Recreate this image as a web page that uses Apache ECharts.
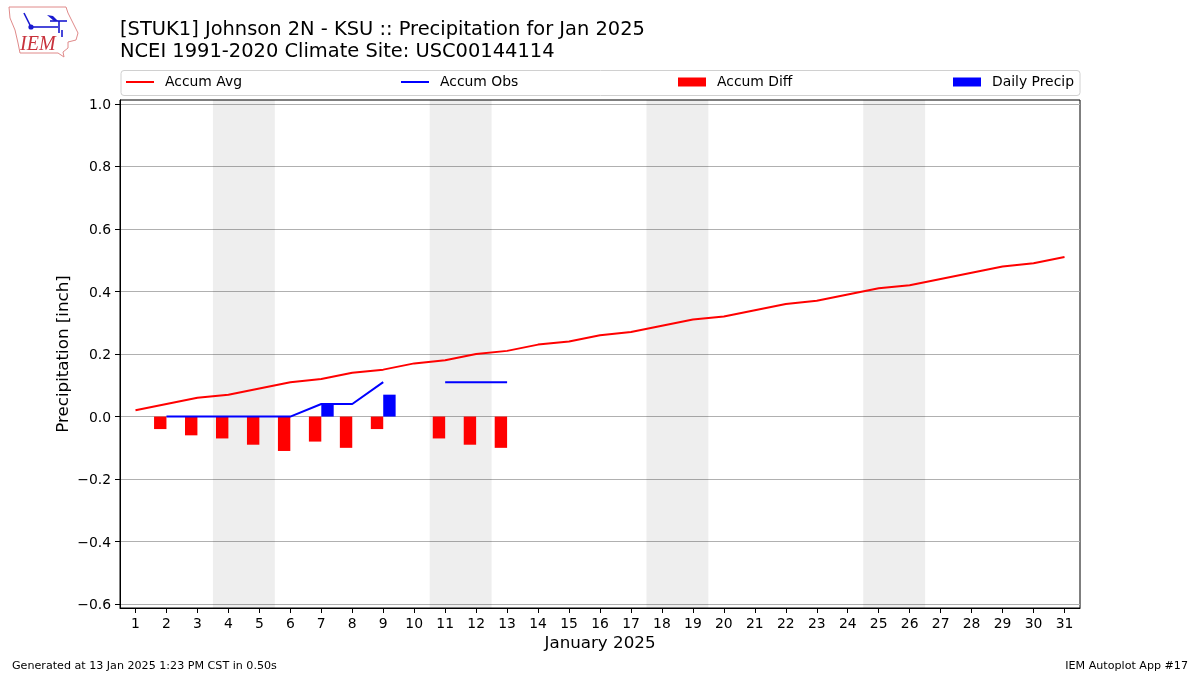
<!DOCTYPE html>
<html>
<head>
<meta charset="utf-8">
<style>html,body{margin:0;padding:0;background:#fff}#c{width:1200px;height:675px}</style>
<script src="https://cdn.jsdelivr.net/npm/echarts@6/dist/echarts.min.js"></script>
</head>
<body>
<div id="c"></div>
<script>
const days = [1,2,3,4,5,6,7,8,9,10,11,12,13,14,15,16,17,18,19,20,21,22,23,24,25,26,27,28,29,30,31];
const accumAvg = [0.02,0.04,0.06,0.07,0.09,0.11,0.12,0.14,0.15,0.17,0.18,0.20,0.21,0.23,0.24,0.26,0.27,0.29,0.31,0.32,0.34,0.36,0.37,0.39,0.41,0.42,0.44,0.46,0.48,0.49,0.51];
const accumObs = [null,0,0,0,0,0,0.04,0.04,0.11,null,0.11,0.11,0.11];
const accumDiff = [null,-0.04,-0.06,-0.07,-0.09,-0.11,-0.08,-0.10,-0.04,null,-0.07,-0.09,-0.10];
const dailyPrecip = [null,0,0,0,0,0,0.04,0,0.07,null,0,0,0];
const weekends = [[3.5,5.5],[10.5,12.5],[17.5,19.5],[24.5,26.5]];
const yTicks = [-0.6,-0.4,-0.2,0,0.2,0.4,0.6,0.8,1.0];
const titleText = "[STUK1] Johnson 2N - KSU :: Precipitation for Jan 2025\nNCEI 1991-2020 Climate Site: USC00144114";
const footLeft = "Generated at 13 Jan 2025 1:23 PM CST in 0.50s";
const footRight = "IEM Autoplot App #17";
const font = "DejaVu Sans";
const pairs = a => days.map((d,i)=>[d, i < a.length ? a[i] : null]);
const legendItem = (name,left,icon,h) => ({
  data:[{name, icon}], left, top:75, itemWidth:28, itemHeight:h, itemGap:0,
  padding:0, textStyle:{fontFamily:font,fontSize:13.9,color:'#000',padding:[1,0,0,6]}, selectedMode:false
});
const outline = [[9,7],[66,7],[68,13],[74,25],[78,33],[76,40],[68,42],[68,48],[63,52],[64,57],[58,53],[20,53],[18,43],[15,30],[10,18]];
const blueSegs = [[[31,27],[58,27]],[[50,21],[67,21]],[[59,21],[59,33]],[[24,13],[31,27]],[[62,30],[62,37]]];
const wing = [[47,15],[53,16],[58,21],[54,21]];
const chart = echarts.init(document.getElementById('c'),null,{renderer:'canvas'});
chart.setOption({
  animation:false,
  backgroundColor:'#fff',
  textStyle:{fontFamily:font},
  title:[
    {text:titleText,left:120,top:19,padding:0,textStyle:{fontFamily:font,fontSize:19.46,fontWeight:'normal',color:'#000',lineHeight:22}},
    {text:footLeft,left:12,top:661,padding:0,textStyle:{fontFamily:font,fontSize:11.12,fontWeight:'normal',color:'#000'}},
    {text:footRight,right:12,top:661,padding:0,textStyle:{fontFamily:font,fontSize:11.12,fontWeight:'normal',color:'#000'}}
  ],
  legend:[
    legendItem('Accum Avg',126,'rect',2),
    legendItem('Accum Obs',401,'rect',2),
    legendItem('Accum Diff',678,'rect',9),
    legendItem('Daily Precip',953,'rect',9)
  ],
  grid:{left:120,top:100,width:960,height:508,show:true,borderColor:'#000',borderWidth:1,backgroundColor:'transparent',containLabel:false},
  xAxis:{
    type:'value',min:0.5,max:31.5,
    name:'January 2025',nameLocation:'middle',nameGap:27,nameMoveOverlap:false,
    nameTextStyle:{fontFamily:font,fontSize:16.7,color:'#000'},
    axisLine:{show:true,onZero:false,lineStyle:{color:'#000',width:1}},
    axisTick:{show:true,length:5,customValues:days,lineStyle:{color:'#000',width:1}},
    axisLabel:{show:true,customValues:days,margin:9,fontFamily:font,fontSize:13.9,color:'#000',formatter:v=>String(v),hideOverlap:false,showMinLabel:true,showMaxLabel:true},
    splitLine:{show:false}
  },
  yAxis:{
    type:'value',min:-0.612,max:1.012,
    name:'Precipitation [inch]',nameLocation:'middle',nameGap:48,nameMoveOverlap:false,
    nameTextStyle:{fontFamily:font,fontSize:16.7,color:'#000'},
    axisLine:{show:true,onZero:false,lineStyle:{color:'#000',width:1}},
    axisTick:{show:true,length:5,customValues:yTicks,lineStyle:{color:'#000',width:1}},
    axisLabel:{show:true,customValues:yTicks,margin:9,fontFamily:font,fontSize:13.9,color:'#000',hideOverlap:false,
      rich:{t:{fontFamily:font,fontSize:13.9,color:'#000',padding:[3,0,0,0]}},
      formatter:v=>'{t|'+(v<-0.001?'\u2212':'')+Math.abs(v).toFixed(1)+'}'},
    splitLine:{show:true,lineStyle:{color:'#b0b0b0',width:1}}
  },
  series:[
    {name:'Accum Avg',type:'line',data:pairs(accumAvg),showSymbol:false,symbol:'none',itemStyle:{color:'#ff0000'},lineStyle:{color:'#ff0000',width:2},z:5,
      markArea:{silent:true,itemStyle:{color:'rgba(0,0,0,0.067)'},data:weekends.map(w=>[{xAxis:w[0]},{xAxis:w[1]}])}},
    {name:'Accum Obs',type:'line',data:pairs(accumObs),connectNulls:false,showSymbol:false,symbol:'none',itemStyle:{color:'#0000ff'},lineStyle:{color:'#0000ff',width:2},z:5},
    {name:'Accum Diff',type:'bar',data:pairs(accumDiff),barWidth:12.4,barGap:0,itemStyle:{color:'#ff0000'},z:3},
    {name:'Daily Precip',type:'bar',data:pairs(dailyPrecip),barWidth:12.4,barGap:0,itemStyle:{color:'#0000ff'},z:3}
  ],
  graphic:[
    {type:'rect',left:120.5,top:70,shape:{width:959,height:25,r:3},style:{fill:'#fff',stroke:'#d0d0d0',lineWidth:1},z:-1},
    {type:'polygon',shape:{points:outline},style:{fill:'#fff',stroke:'#e08a8a',lineWidth:1},z:1},
    {type:'polygon',shape:{points:wing},style:{fill:'#1a1ad0'},z:2},
    ...blueSegs.map(s=>({type:'line',shape:{x1:s[0][0],y1:s[0][1],x2:s[1][0],y2:s[1][1]},style:{stroke:'#1a1ad0',lineWidth:1.6},z:2})),
    {type:'circle',shape:{cx:31,cy:27,r:2.6},style:{fill:'#1a1ad0'},z:2},
    {type:'text',left:20,top:35,style:{text:'IEM',fontFamily:'Liberation Serif',fontStyle:'italic',fontSize:20,fill:'#c8323c'},z:2}
  ]
});
</script>
</body>
</html>
